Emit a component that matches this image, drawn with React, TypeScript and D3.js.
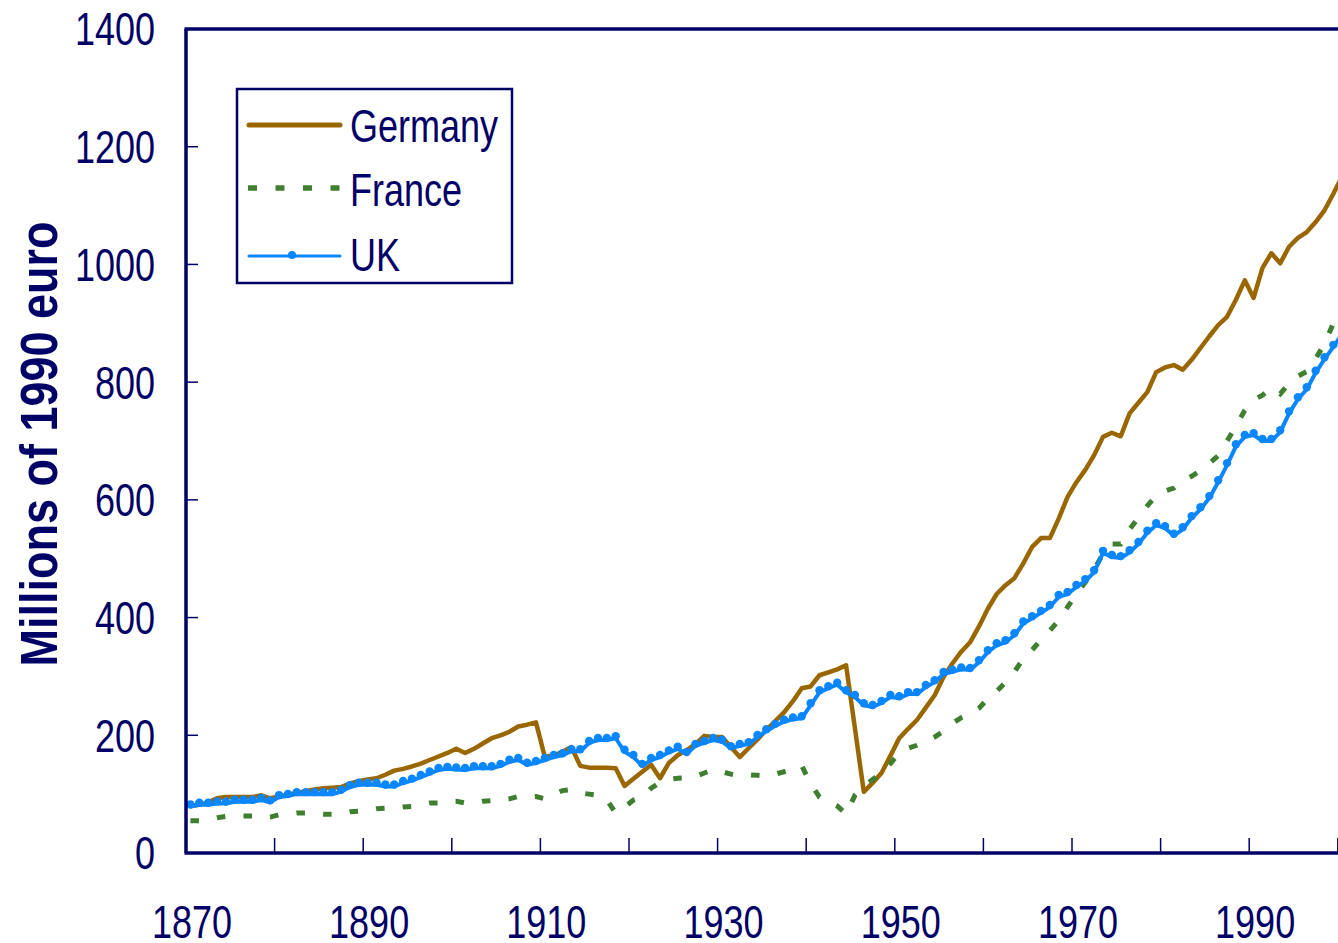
import React from 'react';
import * as d3 from 'd3';

// one category per year, as in the original spreadsheet chart
const years = d3.range(1870, 2001);

// values, millions of 1990 euro, 1870..2000
const germany = [
  80, 82, 86, 93, 95, 95, 95, 95, 98, 93,
  96, 99, 102, 105, 108, 110, 111, 112, 118, 122,
  125, 127, 133, 140, 143, 147, 152, 158, 164, 170,
  177, 170, 177, 186, 195, 200, 206, 215, 218, 222,
  163, 166, 172, 180, 148, 145, 145, 145, 144, 114,
  126, 138, 150, 127, 153, 166, 175, 185, 199, 197,
  197, 180, 163, 178, 193, 209, 224, 239, 258, 280,
  283, 302, 307, 312, 319, 212, 104, 119, 136, 165,
  195, 211, 226, 247, 268, 299, 322, 342, 358, 385,
  415, 440, 455, 467, 492, 520, 535, 535, 568, 605,
  630, 651, 676, 707, 714, 708, 747, 765, 783, 817,
  825, 829, 821, 838, 858, 878, 897, 911, 940, 973,
  943, 994, 1019, 1002, 1030, 1045, 1055, 1072, 1092, 1120,
  1150,
];

const france = [
  55, 55, 57, 60, 62, 63, 63, 63, 62, 61,
  65, 66, 68, 68, 67, 66, 66, 67, 70, 71,
  72, 75, 76, 76, 78, 79, 82, 85, 85, 88,
  88, 85, 85, 88, 89, 90, 92, 96, 95, 96,
  92, 100, 106, 108, 102, 100, 98, 90, 68, 78,
  90, 95, 110, 120, 125, 127, 128, 130, 136, 142,
  138, 134, 131, 133, 132, 131, 134, 138, 142, 148,
  118, 95, 87, 80, 66, 98, 113, 125, 136, 152,
  170, 178, 183, 190, 197, 207, 220, 230, 237, 246,
  262, 275, 290, 308, 330, 345, 362, 378, 395, 418,
  440, 460, 482, 508, 525, 525, 550, 570, 590, 607,
  615, 620, 632, 640, 650, 662, 675, 700, 725, 752,
  770, 778, 790, 780, 798, 810, 818, 840, 865, 900,
  930,
];

const uk = [
  79, 82, 82, 84, 84, 87, 87, 87, 90, 86,
  95, 97, 100, 100, 100, 100, 100, 104, 112, 116,
  116, 116, 113, 113, 119, 123, 129, 135, 141, 143,
  142, 141, 144, 144, 144, 148, 155, 158, 150, 153,
  158, 163, 166, 173, 173, 187, 192, 192, 195, 172,
  163, 148, 158, 163, 171, 177, 168, 182, 187, 192,
  189, 178, 182, 185, 197, 207, 216, 223, 227, 229,
  251, 273, 280, 286, 273, 265, 251, 248, 255, 265,
  263, 270, 270, 282, 290, 304, 308, 312, 311, 324,
  341, 353, 358, 370, 390, 399, 408, 418, 435, 440,
  452, 462, 477, 510, 503, 501, 511, 525, 544, 557,
  552, 539, 550, 569, 584, 603, 630, 659, 691, 707,
  710, 700, 700, 715, 747, 771, 788, 816, 839, 860,
  882,
];

const yTicks = [0, 200, 400, 600, 800, 1000, 1200, 1400];
const xLabelYears = [1870, 1890, 1910, 1930, 1950, 1970, 1990];

const NAVY = '#000066';
const BROWN = '#996600';
const GREEN = '#3f7f30';
const BLUE = '#0a86ff';
const FONT = '"Liberation Sans", Arial, sans-serif';

export default function App() {
  const width = 1338;
  const height = 943;
  const left = 186;
  const top = 29;
  const bottom = 853;
  const band = 8.86;

  // category axis, points sit in the middle of each year's band
  const x = d3.scaleBand<number>()
    .domain(years)
    .range([left, left + years.length * band])
    .padding(0);
  const cx = (yr: number) => (x(yr) as number) + x.bandwidth() / 2;
  const right = left + years.length * band;

  const y = d3.scaleLinear().domain([0, 1400]).range([bottom, top]);

  const line = d3.line<number>()
    .x((_, i) => cx(years[i]))
    .y(d => y(d));

  // tick marks on the boundaries between every 10th category
  const xTickPos = d3.range(10, years.length, 10).map(k => left + k * x.bandwidth());

  return (
    <div style={{ position: 'absolute', left: 0, top: 0 }}>
      <svg width={width} height={height} style={{ display: 'block', background: '#fff' }} fontFamily={FONT}>
        {/* y tick marks */}
        {yTicks.slice(1, -1).map(t => (
          <line key={t} x1={left} x2={left + 12} y1={y(t)} y2={y(t)} stroke={NAVY} strokeWidth={1.5} />
        ))}
        {/* x tick marks */}
        {xTickPos.map(p => (
          <line key={p} x1={p} x2={p} y1={bottom} y2={bottom - 15} stroke={NAVY} strokeWidth={1.5} />
        ))}

        {/* series */}
        <path d={line(germany) ?? ''} fill="none" stroke={BROWN} strokeWidth={4.5} strokeLinejoin="round" />
        <path d={line(france) ?? ''} fill="none" stroke={GREEN} strokeWidth={5} strokeDasharray="8.5 18.2" />
        <path d={line(uk) ?? ''} fill="none" stroke={BLUE} strokeWidth={4} strokeLinejoin="round" />
        {uk.map((v, i) => (
          <circle key={i} cx={cx(years[i])} cy={y(v) - 2} r={4.2} fill={BLUE} />
        ))}

        {/* frame: left axis, bottom axis, top border */}
        <line x1={left} x2={left} y1={top} y2={bottom} stroke={NAVY} strokeWidth={3.5} />
        <line x1={left - 1.5} x2={right} y1={bottom} y2={bottom} stroke={NAVY} strokeWidth={3.5} />
        <line x1={left - 1.5} x2={right} y1={top} y2={top} stroke={NAVY} strokeWidth={3.5} />

        {/* y tick labels */}
        {yTicks.map(t => (
          <text key={t} transform={`translate(155,${y(t)}) scale(1,1.27)`} dy="0.36em"
            textAnchor="end" fontSize={36} fill={NAVY}>{t}</text>
        ))}

        {/* x tick labels */}
        {xLabelYears.map(yr => (
          <text key={yr} transform={`translate(${cx(yr) + 1.5},921.5) scale(1,1.27)`} dy="0.36em"
            textAnchor="middle" fontSize={36} fill={NAVY}>{yr}</text>
        ))}

        {/* y axis title */}
        <text transform="translate(57,444) rotate(-90) scale(1,1.14)" textAnchor="middle"
          fontSize={45} fontWeight="bold" fill={NAVY}>Millions of 1990 euro</text>

        {/* legend */}
        <rect x={237} y={89} width={275} height={194} fill="#fff" stroke={NAVY} strokeWidth={2.5} />
        <line x1={249} x2={340} y1={125} y2={125} stroke={BROWN} strokeWidth={5} strokeLinecap="round" />
        <line x1={248} x2={341} y1={188} y2={188} stroke={GREEN} strokeWidth={5.5} strokeDasharray="9 18.5" />
        <line x1={249} x2={340} y1={256} y2={256} stroke={BLUE} strokeWidth={3} strokeLinecap="round" />
        <circle cx={292} cy={255} r={4} fill={BLUE} />
        {['Germany', 'France', 'UK'].map((name, i) => (
          <text key={name} transform={`translate(350,${[125.5, 190, 255][i]}) scale(1,1.27)`} dy="0.36em"
            fontSize={36} fill={NAVY}>{name}</text>
        ))}
      </svg>
    </div>
  );
}
